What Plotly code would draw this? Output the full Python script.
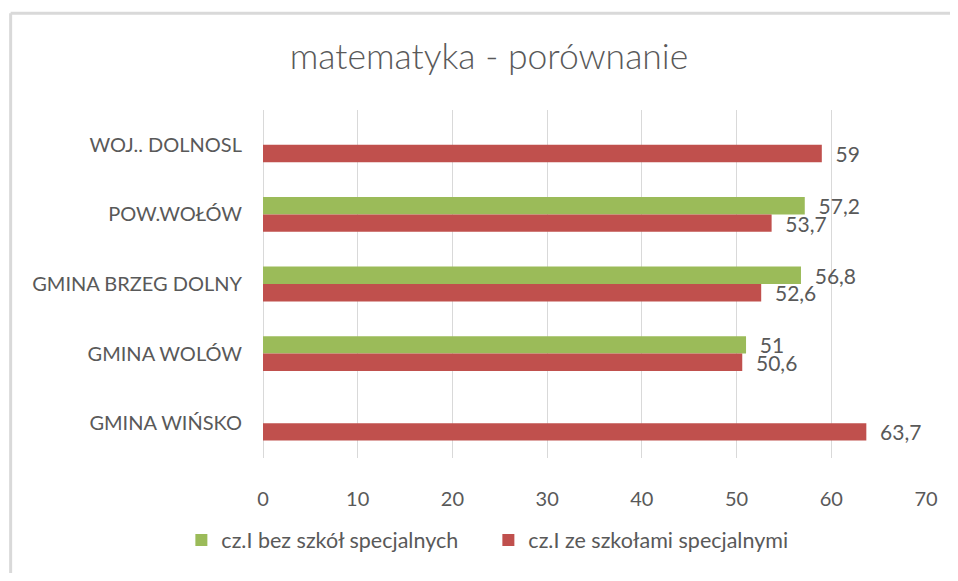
import plotly.graph_objects as go

categories = ["WOJ.. DOLNOSL", "POW.WOŁÓW", "GMINA BRZEG DOLNY", "GMINA WOLÓW", "GMINA WIŃSKO"]
bez_specjalnych = [None, 57.2, 56.8, 51, None]
ze_specjalnymi = [59, 53.7, 52.6, 50.6, 63.7]
series_names = ["cz.I bez szkół specjalnych", "cz.I ze szkołami specjalnymi"]
x_ticks = [0, 10, 20, 30, 40, 50, 60, 70]

# page has an 8px body margin; work in figure coordinates = page - 8
OFF = 8
W, H = 958 - 2 * OFF, 581 - 2 * OFF
L = 263 - OFF
T = 110 - OFF
R = W - (929 - OFF)
B = H - (466 - OFF)
TEXT = "#595959"
FONT = "Lato"


def fmt(v):
    if v is None:
        return ""
    s = ("%g" % v).replace(".", ",")
    return "\u00a0\u00a0" + s


fig = go.Figure()
for name, vals, col in [(series_names[0], bez_specjalnych, "#9BBB59"),
                        (series_names[1], ze_specjalnymi, "#C0504D")]:
    fig.add_trace(go.Bar(
        y=categories, x=vals, name=name, orientation="h",
        marker=dict(color=col, line=dict(width=0)),
        text=[fmt(v) for v in vals], textposition="outside",
        constraintext="none", cliponaxis=False,
        textfont=dict(family=FONT, size=21, color=TEXT),
    ))

# frame of the chart area (page coords converted to paper)
px2x = lambda p: (p - OFF - L) / (W - L - R)
py2y = lambda p: (H - B - (p - OFF)) / (H - T - B)
frame = dict(color="#D9D9D9", width=3)
fig.add_shape(type="line", xref="paper", yref="paper",
              x0=px2x(9.5), x1=px2x(9.5), y0=py2y(600), y1=py2y(11), line=frame, layer="below")
fig.add_shape(type="line", xref="paper", yref="paper",
              x0=px2x(9.5), x1=px2x(1200), y0=py2y(11), y1=py2y(11), line=frame, layer="below")

fig.update_layout(
    width=W, height=H,
    margin=dict(l=L, r=R, t=T, b=B),
    paper_bgcolor="white", plot_bgcolor="white",
    barmode="group", bargap=0.5, bargroupgap=0,
    title=dict(text="matematyka - porównanie", x=(489 - OFF) / W, xanchor="center",
               y=1 - (57 - OFF) / H, yanchor="middle", yref="container",
               font=dict(family=FONT, size=35.5, color=TEXT, weight=300)),
    xaxis=dict(range=[0, 70], tickvals=x_ticks, showgrid=True,
               gridcolor="#D9D9D9", gridwidth=1, zeroline=True,
               zerolinecolor="#D9D9D9", zerolinewidth=1, showline=False,
               ticks="", ticklabelstandoff=27,
               tickfont=dict(family=FONT, size=20, color=TEXT)),
    yaxis=dict(autorange="reversed", showgrid=False, showline=False,
               ticks="", ticklabelstandoff=20,
               tickfont=dict(family=FONT, size=20, color=TEXT)),
    legend=dict(orientation="h", x=px2x(181), xanchor="left",
                y=py2y(550), yanchor="middle",
                entrywidth=262, entrywidthmode="pixels",
                font=dict(family=FONT, size=21.5, color=TEXT),
                bgcolor="rgba(0,0,0,0)"),
    showlegend=True,
)

fig.write_html("out.html")
